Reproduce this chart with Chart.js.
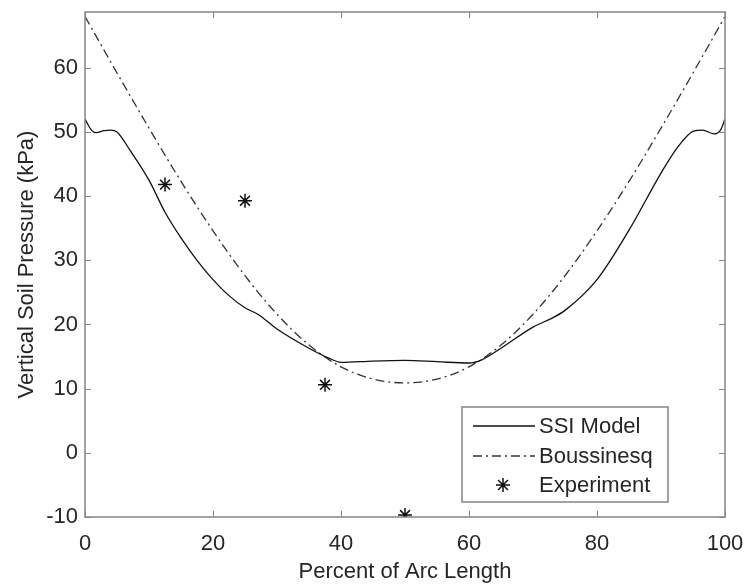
<!DOCTYPE html>
<html>
<head>
<meta charset="utf-8">
<script src="https://cdn.jsdelivr.net/npm/chart.js@4.4.1/dist/chart.umd.min.js"></script>
<style>
  html, body { margin: 0; padding: 0; background: #fff; }
  #wrap { width: 747px; height: 585px; }
</style>
</head>
<body>
<div id="wrap"><canvas id="soilChart" width="747" height="585"></canvas></div>
<script>
// SSI model curve (percent of arc length, kPa)
const ssiX = [0, 1, 1.7, 3, 4, 5, 7, 10, 12.5, 15, 17.5, 20, 22.5, 25, 27, 30, 35, 38, 40, 45, 50, 55, 60, 62, 65, 70, 73, 75, 80, 85, 90, 92.5, 95, 96.5, 98.3, 99.3, 100];
const ssiY = [52.0, 50.3, 49.9, 50.2, 50.3, 50.0, 47.2, 42.5, 37.5, 33.5, 30.0, 27.0, 24.5, 22.6, 21.6, 19.3, 16.3, 14.8, 14.1, 14.3, 14.4, 14.2, 14.0, 14.5, 16.3, 19.6, 21.0, 22.2, 27.0, 34.7, 43.6, 47.5, 50.1, 50.3, 49.7, 50.3, 52.0];

// Boussinesq curve
const bousX = [0, 5, 10, 15, 20, 25, 30, 35, 40, 45, 50, 55, 60, 65, 70, 75, 80, 85, 90, 95, 100];
const bousY = [68.0, 59.2, 50.6, 42.3, 34.6, 27.6, 21.6, 16.8, 13.4, 11.5, 10.9, 11.5, 13.4, 16.8, 21.6, 27.6, 34.6, 42.3, 50.6, 59.2, 68.0];

// Experimental points
const expX = [12.5, 25, 37.5, 50];
const expY = [41.8, 39.3, 10.6, -9.7];

const seriesLabels = ["SSI Model", "Boussinesq", "Experiment"];
const xTicks = [0, 20, 40, 60, 80, 100];
const yTicks = [-10, 0, 10, 20, 30, 40, 50, 60];

const textColor = "#262626";
const axisColor = "#858585";
const font = { family: "'Liberation Sans', Arial, sans-serif", size: 22 };

function pairs(xs, ys) {
  return xs.map((x, i) => ({ x: x, y: ys[i] }));
}

// box + inward ticks, MATLAB style
const frame = {
  id: "frame",
  afterDatasetsDraw(chart) {
    const { ctx, chartArea: a, scales } = chart;
    ctx.save();
    ctx.strokeStyle = axisColor;
    ctx.lineWidth = 1.5;
    ctx.strokeRect(a.left, a.top, a.right - a.left, a.bottom - a.top);
    ctx.lineWidth = 1;
    ctx.beginPath();
    for (const t of xTicks) {
      const px = Math.round(scales.x.getPixelForValue(t)) + 0.5;
      ctx.moveTo(px, a.bottom); ctx.lineTo(px, a.bottom - 6);
      ctx.moveTo(px, a.top); ctx.lineTo(px, a.top + 6);
    }
    for (const t of yTicks) {
      const py = Math.round(scales.y.getPixelForValue(t)) + 0.5;
      ctx.moveTo(a.left, py); ctx.lineTo(a.left + 6, py);
      ctx.moveTo(a.right, py); ctx.lineTo(a.right - 6, py);
    }
    ctx.stroke();
    ctx.restore();
  }
};

// legend box inside lower right of the axes
const boxLegend = {
  id: "boxLegend",
  afterDraw(chart) {
    const { ctx } = chart;
    const ds = chart.data.datasets;
    const bx = 462, by = 407, bw = 206, bh = 95;
    ctx.save();
    ctx.fillStyle = "#fff";
    ctx.fillRect(bx, by, bw, bh);
    ctx.strokeStyle = axisColor;
    ctx.lineWidth = 1.5;
    ctx.strokeRect(bx, by, bw, bh);
    const rows = [426, 456, 485];
    ctx.font = font.size + "px " + font.family;
    ctx.textBaseline = "middle";
    ctx.fillStyle = textColor;
    ds.forEach((d, i) => {
      const y = rows[i];
      ctx.strokeStyle = d.borderColor;
      ctx.lineWidth = d.borderWidth;
      if (d.showLine === false) {
        Chart.helpers.drawPoint(ctx, { pointStyle: "star", radius: d.pointRadius, borderWidth: d.borderWidth }, 503, y);
      } else {
        ctx.setLineDash(d.borderDash || []);
        ctx.beginPath();
        ctx.moveTo(473, y); ctx.lineTo(535, y);
        ctx.stroke();
        ctx.setLineDash([]);
      }
      ctx.fillText(d.label, 539, y + 1);
    });
    ctx.restore();
  }
};

const ctx = document.getElementById("soilChart");

new Chart(ctx, {
  type: "line",
  data: {
    datasets: [
      {
        label: seriesLabels[0],
        data: pairs(ssiX, ssiY),
        borderColor: "#111",
        borderWidth: 1.3,
        pointRadius: 0,
        cubicInterpolationMode: "monotone",
        fill: false,
      },
      {
        label: seriesLabels[1],
        data: pairs(bousX, bousY),
        borderColor: "#333",
        borderWidth: 1.3,
        borderDash: [9, 4, 2, 4],
        pointRadius: 0,
        cubicInterpolationMode: "monotone",
        fill: false,
      },
      {
        label: seriesLabels[2],
        data: pairs(expX, expY),
        borderColor: "#111",
        backgroundColor: "#111",
        borderWidth: 1.5,
        showLine: false,
        pointStyle: "star",
        pointRadius: 7,
      },
    ],
  },
  options: {
    responsive: false,
    animation: false,
    events: [],
    layout: { padding: { top: 12, right: 22, left: 0, bottom: 0 } },
    plugins: {
      legend: { display: false },
      tooltip: { enabled: false },
    },
    scales: {
      x: {
        type: "linear",
        min: 0,
        max: 100,
        border: { display: false },
        grid: { display: false, drawTicks: false },
        ticks: {
          stepSize: 20,
          color: textColor,
          font: font,
          padding: 14,
          maxRotation: 0,
        },
        title: {
          display: true,
          text: "Percent of Arc Length",
          color: textColor,
          font: font,
          padding: { top: 0, bottom: 0 },
        },
        afterFit(s) {
          s.height = 68;
          s.paddingLeft = 0;
          s.paddingRight = 0;
        },
      },
      y: {
        min: -10,
        max: 68.7,
        border: { display: false },
        grid: { display: false, drawTicks: false },
        ticks: {
          stepSize: 10,
          includeBounds: false,
          color: textColor,
          font: font,
          padding: 7,
        },
        title: {
          display: true,
          text: "Vertical Soil Pressure (kPa)",
          color: textColor,
          font: font,
          padding: { top: 14, bottom: 0 },
        },
        afterFit(s) {
          s.width = 85;
          s.paddingTop = 0;
          s.paddingBottom = 0;
        },
      },
    },
  },
  plugins: [frame, boxLegend],
});
</script>
</body>
</html>
